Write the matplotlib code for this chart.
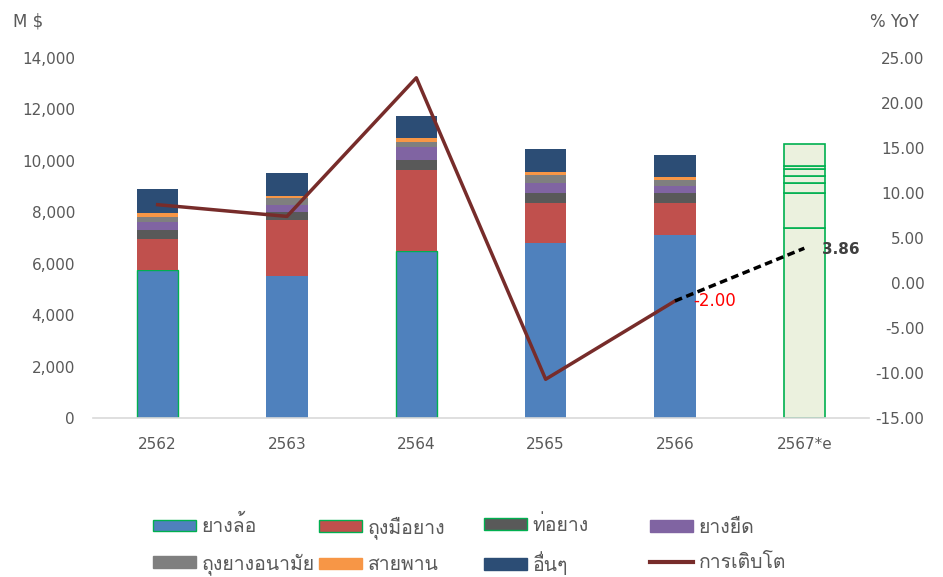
import numpy as np
import matplotlib
matplotlib.use('Agg')
import matplotlib.pyplot as plt
from matplotlib import font_manager
from matplotlib.ft2font import FT2Font
from matplotlib.patches import Patch
from matplotlib.lines import Line2D

years = ['2562', '2563', '2564', '2565', '2566', '2567*e']
segments = ['ยางล้อ', 'ถุงมือยาง', 'ท่อยาง', 'ยางยืด', 'ถุงยางอนามัย', 'สายพาน', 'อื่นๆ']
tires = [5750, 5520, 6510, 6820, 7120, 7400]
gloves = [1200, 2180, 3140, 1555, 1255, 1350]
hoses = [360, 300, 390, 390, 390, 375]
elastic = [325, 285, 480, 365, 260, 300]
condoms = [195, 260, 195, 310, 245, 250]
belts = [130, 90, 155, 115, 115, 140]
others = [935, 880, 855, 895, 845, 830]
growth = [8.7, 7.4, 22.8, -10.7, -2.00]
forecast = [-2.00, 3.86]
growth_label = 'การเติบโต'

colors = ['#4F81BD', '#C0504D', '#595959', '#8064A2', '#7F7F7F', '#F79646', '#2C4D75']


def thai_font():
    # find any installed font that has Thai glyphs
    for f in font_manager.fontManager.ttflist:
        try:
            if FT2Font(f.fname).get_char_index(ord('ย')):
                return f.name
        except Exception:
            pass
    return 'DejaVu Sans'


THAI = thai_font()
plt.rcParams['font.family'] = ['DejaVu Sans', THAI]
gray = '#595959'

fig = plt.figure(figsize=(9.43, 5.77), dpi=100)
ax = fig.add_axes([0.0986, 0.2756, 0.8229, 0.6239])
x = np.arange(len(years))
w = 0.32
bottom = np.zeros(len(years))
series = [tires, gloves, hoses, elastic, condoms, belts, others]
for i, (vals, col) in enumerate(zip(series, colors)):
    vals = np.array(vals, float)
    bars = ax.bar(x[:-1], vals[:-1], w, bottom=bottom[:-1], color=col, linewidth=0)
    if i == 0:
        for b in (bars[0], bars[2]):
            b.set_edgecolor('#00B050')
            b.set_linewidth(1)
    ax.bar(x[-1], vals[-1], w, bottom=bottom[-1], color='#EBF1DE',
           edgecolor='#00B050', linewidth=1.2)
    bottom += vals

ax.set_xlim(-0.5, len(years) - 0.5)
ax.set_ylim(0, 14000)
ax.set_yticks(np.arange(0, 14001, 2000))
ax.set_yticklabels([f'{v:,}' for v in range(0, 14001, 2000)])
ax.set_xticks(x)
ax.set_xticklabels(years)
for s in ['top', 'left', 'right']:
    ax.spines[s].set_visible(False)
ax.spines['bottom'].set_color('#D9D9D9')
ax.spines['bottom'].set_linewidth(1.2)
ax.tick_params(axis='y', length=0, pad=13, labelsize=11, labelcolor=gray)
ax.tick_params(axis='x', length=0, pad=14, labelsize=11, labelcolor=gray)

ax2 = ax.twinx()
ax2.set_ylim(-15, 25)
ax2.set_yticks(np.arange(-15, 26, 5))
ax2.set_yticklabels([f'{v:.2f}' for v in range(-15, 26, 5)], ha='right')
for s in ax2.spines.values():
    s.set_visible(False)
ax2.tick_params(axis='y', length=0, pad=40, labelsize=11, labelcolor=gray)

ax2.plot(x[:5], growth, color='#772C2A', lw=2.5)
ax2.plot(x[4:], forecast, color='black', lw=2.5, dashes=(2.2, 1.3))
ax2.annotate(f'{forecast[0]:.2f}', (x[4], forecast[0]), xytext=(13, 0),
             textcoords='offset points', va='center', color='#FF0000', fontsize=12)
ax2.annotate(f'{forecast[1]:.2f}', (x[5], forecast[1]), xytext=(13, -1),
             textcoords='offset points', va='center', color='#404040',
             fontsize=11, fontweight='bold')

fig.text(0.014, 0.962, 'M $', fontsize=12, color=gray, va='center')
fig.text(0.923, 0.962, '% YoY', fontsize=12, color=gray, va='center')

handles = [Patch(facecolor=c, edgecolor='#00B050' if i < 3 else c, linewidth=1)
           for i, c in enumerate(colors)]
handles.append(Line2D([], [], color='#772C2A', lw=3))
labels = segments + [growth_label]
col_x = [153, 319, 484, 650]
for j, cx in enumerate(col_x):
    fig.legend([handles[j], handles[j + 4]], [labels[j], labels[j + 4]],
               loc='center left', bbox_to_anchor=(cx / 943, 1 - 545 / 577),
               frameon=False, borderpad=0, borderaxespad=0, fontsize=14,
               handlelength=2.2, handleheight=0.55, handletextpad=0.3,
               labelspacing=0.86, labelcolor=gray)

fig.savefig('out.png', dpi=100)
